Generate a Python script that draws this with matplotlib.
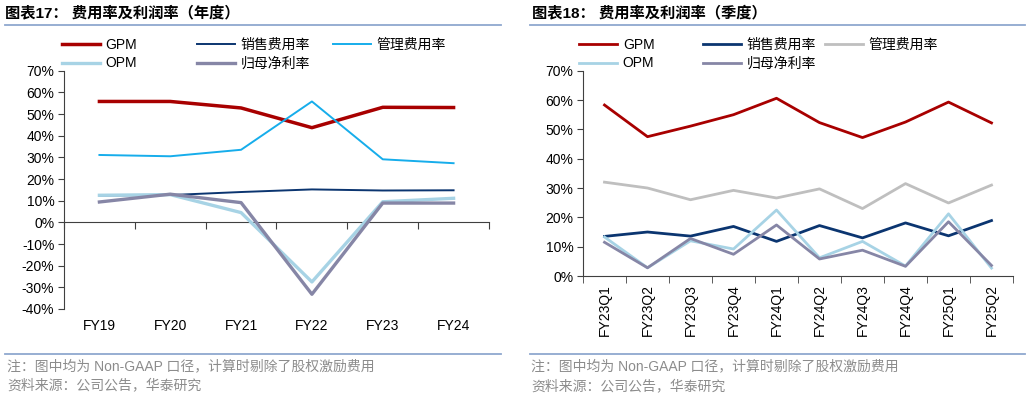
import matplotlib.pyplot as plt
from matplotlib.lines import Line2D

plt.rcParams['font.family'] = ['Liberation Sans', 'Noto Sans CJK SC', 'DejaVu Sans']

W, H = 1030, 398

# annual data (%)
years = ['FY19', 'FY20', 'FY21', 'FY22', 'FY23', 'FY24']
gpm_y = [55.8, 55.8, 52.8, 43.7, 53.1, 53.0]
sell_y = [12.4, 12.6, 14.0, 15.2, 14.7, 14.8]
admin_y = [31.1, 30.5, 33.5, 55.8, 29.1, 27.3]
opm_y = [12.5, 12.8, 4.5, -27.5, 9.5, 11.1]
ni_y = [9.4, 13.0, 9.1, -33.2, 8.9, 8.9]

# quarterly data (%)
quarters = ['FY23Q1', 'FY23Q2', 'FY23Q3', 'FY23Q4', 'FY24Q1',
            'FY24Q2', 'FY24Q3', 'FY24Q4', 'FY25Q1', 'FY25Q2']
gpm_q = [58.3, 47.5, 51.1, 55.0, 60.6, 52.3, 47.2, 52.5, 59.3, 52.2]
sell_q = [13.5, 15.0, 13.6, 16.9, 11.8, 17.2, 13.0, 18.1, 13.7, 18.9]
admin_q = [32.0, 30.0, 26.0, 29.2, 26.6, 29.7, 23.0, 31.5, 24.9, 31.0]
opm_q = [13.3, 2.8, 12.0, 9.2, 22.5, 6.2, 11.8, 3.4, 21.2, 2.7]
ni_q = [11.5, 2.8, 12.8, 7.4, 17.4, 5.8, 8.8, 3.3, 18.5, 3.6]

labels = ['GPM', '销售费用率', '管理费用率', 'OPM', '归母净利率']
c_gpm = '#A80000'
c_sell = '#0B3570'
c_admin_l = '#16ADEB'
c_admin_r = '#BFBFBF'
c_opm = '#A7D3E5'
c_ni = '#8686A6'
c_rule = '#8FA8CF'
c_foot = '#8C8C8C'

fig = plt.figure(figsize=(W / 100, H / 100), dpi=100)


def fx(px):
    return px / W


def fy(py):
    return 1 - py / H


def rule(x0, x1, y):
    fig.add_artist(Line2D([fx(x0), fx(x1)], [fy(y), fy(y)], color=c_rule, lw=1.3))


def legend_col(handles, names, x, y):
    fig.legend(handles, names, loc='upper left', bbox_to_anchor=(fx(x), fy(y)),
               frameon=False, fontsize=10, handlelength=2.75, handletextpad=0.4,
               labelspacing=0.32, borderpad=0, borderaxespad=0)


def style_y(ax):
    for s in ['top', 'right']:
        ax.spines[s].set_visible(False)
    ax.spines['left'].set_color('#404040')
    ax.yaxis.set_major_formatter(plt.FuncFormatter(lambda v, p: '%d%%' % round(v)))
    ax.tick_params(axis='y', direction='out', length=4, color='#404040', labelsize=10, pad=3)


# ---------- left: annual ----------
axl = fig.add_axes([fx(64), fy(309), fx(489 - 64), (309 - 70.7) / H])
xl = range(len(years))
hl = []
hl.append(axl.plot(xl, gpm_y, color=c_gpm, lw=2.5)[0])
hl.append(axl.plot(xl, sell_y, color=c_sell, lw=1.4)[0])
hl.append(axl.plot(xl, admin_y, color=c_admin_l, lw=1.4)[0])
hl.append(axl.plot(xl, opm_y, color=c_opm, lw=2.4)[0])
hl.append(axl.plot(xl, ni_y, color=c_ni, lw=2.4)[0])
axl.set_xlim(-0.5, len(years) - 0.5)
axl.set_ylim(-40, 70)
axl.set_yticks(range(-40, 71, 10))
style_y(axl)
axl.spines['bottom'].set_visible(False)
axl.set_xticks(list(xl))
axl.set_xticklabels(years, fontsize=10)
axl.tick_params(axis='x', length=0, pad=7)
sec = axl.secondary_xaxis(0, transform=axl.transData)
sec.set_xticks([i - 0.5 for i in range(len(years) + 1)])
sec.tick_params(axis='x', direction='out', length=5, color='#404040', labelbottom=False)
sec.spines['bottom'].set_color('#404040')

fig.text(fx(5), fy(13), '图表17： 费用率及利润率（年度）', fontsize=11, fontweight='bold',
         va='center', ha='left')
rule(5, 501, 24.5)
rule(5, 501, 353.5)
fig.text(fx(7), fy(366), '注：图中均为 Non-GAAP 口径，计算时剔除了股权激励费用', fontsize=10,
         color=c_foot, va='center')
fig.text(fx(7), fy(385), '资料来源：公司公告，华泰研究', fontsize=10, color=c_foot, va='center')
legend_col([hl[0], hl[3]], [labels[0], labels[3]], 62, 38)
legend_col([hl[1], hl[4]], [labels[1], labels[4]], 197, 38)
legend_col([hl[2]], [labels[2]], 333, 38)

# ---------- right: quarterly ----------
axr = fig.add_axes([fx(583), fy(276), fx(1013 - 583), (276 - 70.7) / H])
xq = range(len(quarters))
hr = []
hr.append(axr.plot(xq, gpm_q, color=c_gpm, lw=2.0)[0])
hr.append(axr.plot(xq, sell_q, color=c_sell, lw=2.0)[0])
hr.append(axr.plot(xq, admin_q, color=c_admin_r, lw=2.0)[0])
hr.append(axr.plot(xq, opm_q, color=c_opm, lw=2.0)[0])
hr.append(axr.plot(xq, ni_q, color=c_ni, lw=2.0)[0])
axr.set_xlim(-0.5, len(quarters) - 0.5)
axr.set_ylim(0, 70)
axr.set_yticks(range(0, 71, 10))
style_y(axr)
axr.spines['bottom'].set_color('#404040')
axr.set_xticks(list(xq))
axr.set_xticklabels(quarters, rotation=90, fontsize=10)
axr.set_xticks([i - 0.5 for i in range(len(quarters) + 1)], minor=True)
axr.tick_params(axis='x', which='major', length=0, pad=6)
axr.tick_params(axis='x', which='minor', direction='out', length=5, color='#404040')

fig.text(fx(532), fy(13), '图表18： 费用率及利润率（季度）', fontsize=11, fontweight='bold',
         va='center', ha='left')
rule(530, 1025, 24.5)
rule(530, 1025, 354)
fig.text(fx(531), fy(366), '注：图中均为 Non-GAAP 口径，计算时剔除了股权激励费用', fontsize=10,
         color=c_foot, va='center')
fig.text(fx(531), fy(386), '资料来源：公司公告，华泰研究', fontsize=10, color=c_foot, va='center')
legend_col([hr[0], hr[3]], [labels[0], labels[3]], 579, 38)
legend_col([hr[1], hr[4]], [labels[1], labels[4]], 703, 38)
legend_col([hr[2]], [labels[2]], 825, 38)

fig.savefig('out.png', dpi=100)
